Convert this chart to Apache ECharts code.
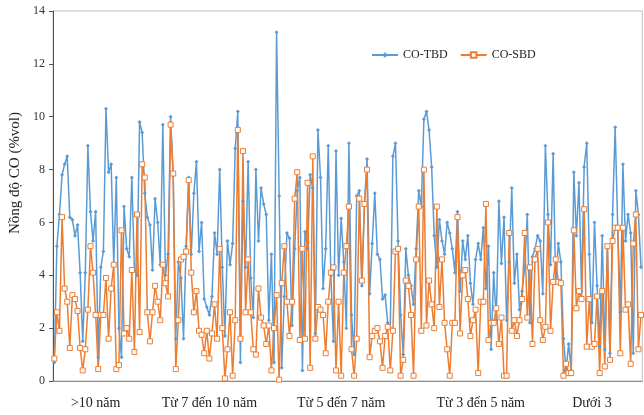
<!DOCTYPE html>
<html>
<head>
<meta charset="utf-8">
<script src="https://cdn.jsdelivr.net/npm/echarts@6/dist/echarts.min.js"></script>
<style>
html,body{margin:0;padding:0;background:#fff;}
#chart{width:644px;height:415px;}
</style>
</head>
<body>
<div id="chart"></div>
<script>
var seriesNames = ['CO-TBD', 'CO-SBD'];
var groupLabels = ['>10 năm', 'Từ 7 đến 10 năm', 'Từ 5 đến 7 năm', 'Từ 3 đến 5 năm', 'Dưới 3'];
var groupLabelAt = [16, 60, 111, 165, 208];
var yTicks = [0, 2, 4, 6, 8, 10, 12, 14];

// CO-TBD
var tbd = [
    0.7, 5.1, 6.3, 7.8, 8.2, 8.5, 6.2, 6.1, 5.5, 5.9,
    4.1, 1.5, 4.1, 8.9, 6.4, 5.3, 6.4, 0.9, 4.3, 4.9,
    10.3, 7.9, 8.2, 4.4, 7.7, 2.0, 0.9, 6.6, 5.0, 4.7,
    7.7, 4.2, 4.0, 9.8, 9.4, 7.1, 6.2, 5.9, 4.2, 6.9,
    6.0, 4.4, 9.7, 4.0, 4.8, 10.0, 7.8, 1.6, 4.5, 3.9,
    1.6, 5.1, 7.7, 4.8, 7.1, 8.3, 4.9, 6.0, 3.1, 2.8,
    2.5, 3.2, 5.6, 4.8, 8.0, 4.3, 1.7, 5.3, 4.4, 5.2,
    8.8, 10.2, 0.7, 6.8, 4.3, 8.3, 3.9, 2.4, 8.0, 5.3,
    7.3, 6.7, 6.3, 2.3, 4.8, 0.7, 13.2, 7.0, 0.5, 3.2,
    5.6, 5.4, 2.1, 5.0, 7.2, 7.7, 0.4, 5.65, 5.0, 7.8,
    7.3, 1.8, 9.5, 7.7, 3.5, 5.0, 8.9, 4.0, 1.5, 8.7,
    4.0, 6.15, 4.5, 2.0, 9.0, 2.5, 1.0, 7.0, 7.2, 3.6,
    6.7, 8.4, 3.3, 5.2, 7.1, 4.8, 4.6, 3.1, 3.25, 2.2,
    2.0, 8.5, 9.0, 5.3, 2.5, 1.0, 5.0, 4.0, 3.6, 2.9,
    5.0, 7.2, 6.6, 9.9, 10.2, 9.5, 8.1, 5.5, 4.3, 6.1,
    5.3, 4.8, 6.0, 5.6, 5.0, 4.1, 6.4, 3.4, 5.3, 4.6,
    5.5, 3.7, 2.9, 4.6, 5.2, 4.6, 5.8, 3.5, 5.1, 1.2,
    4.1, 2.3, 6.8, 4.45, 6.2, 2.3, 4.5, 7.3, 3.7, 4.8,
    2.7, 3.4, 4.3, 6.3, 2.2, 4.7, 5.0, 5.5, 5.3, 3.3,
    8.9, 6.3, 4.4, 8.6, 3.7, 5.2, 4.5, 1.6, 0.4, 1.4,
    0.4, 7.9, 5.5, 7.5, 3.4, 8.1, 9.0, 4.8, 2.2, 6.0,
    3.6, 1.3, 5.5, 1.2, 5.1, 1.05, 6.3, 9.6, 5.8, 2.6,
    8.2, 5.3, 6.3, 5.6, 1.05, 7.2, 6.3, 4.3
];

// CO-SBD
var sbd = [
    0.85, 2.6, 1.9, 6.2, 3.5, 3.0, 1.25, 3.25, 3.1, 2.65,
    1.25, 0.4, 1.2, 2.7, 5.1, 4.1, 2.5, 0.45, 2.5, 2.5,
    3.9, 1.6, 3.5, 4.4, 0.45, 0.6, 5.7, 1.8, 2.0, 1.6,
    4.2, 1.1, 6.3, 1.85, 8.2, 7.7, 2.6, 1.5, 2.6, 3.6,
    3.0, 2.3, 4.4, 3.7, 3.2, 9.7, 7.85, 0.45, 2.3, 4.6,
    4.7, 4.9, 7.6, 4.1, 2.6, 3.4, 1.9, 1.75, 1.05, 1.9,
    0.85, 1.8, 2.9, 1.6, 5.0, 2.0, 0.1, 1.2, 2.6, 0.2,
    2.3, 9.5, 1.6, 8.7, 2.6, 4.6, 2.6, 1.2, 1.0, 3.5,
    2.4, 2.1, 1.4, 2.1, 0.4, 2.0, 3.25, 0.05, 3.7, 5.1,
    3.0, 1.7, 3.0, 6.9, 7.9, 1.55, 5.0, 1.6, 7.5, 0.5,
    8.5, 1.6, 2.8, 2.7, 2.5, 1.05, 3.0, 4.1, 4.3, 0.4,
    3.0, 0.2, 4.1, 5.1, 6.6, 1.2, 0.2, 1.6, 6.9, 3.8,
    6.7, 8.0, 0.9, 1.7, 1.9, 2.0, 1.5, 0.5, 1.7, 2.05,
    0.4, 1.9, 4.9, 5.0, 0.2, 0.8, 3.8, 3.6, 2.5, 0.2,
    4.6, 6.6, 1.9, 8.0, 2.1, 3.8, 2.9, 2.0, 6.6, 2.8,
    4.6, 2.2, 1.2, 0.2, 2.2, 2.2, 6.2, 1.8, 4.0, 4.2,
    3.1, 1.7, 2.3, 2.7, 0.3, 3.0, 3.0, 6.7, 1.55, 2.2,
    2.2, 2.75, 1.4, 2.4, 0.2, 0.2, 5.6, 1.9, 2.3, 1.7,
    2.3, 3.1, 5.6, 2.4, 4.3, 1.4, 4.6, 5.0, 2.3, 1.55,
    2.05, 6.0, 1.9, 3.75, 4.6, 3.75, 3.7, 0.2, 0.65, 0.3,
    0.3, 5.7, 2.75, 3.4, 3.1, 6.5, 1.3, 3.1, 1.3, 1.4,
    3.2, 0.3, 3.4, 0.55, 5.1, 0.8, 5.3, 5.8, 5.8, 1.05,
    5.8, 2.7, 2.9, 0.65, 5.2, 6.3, 1.2, 2.5
];

var categories = tbd.map(function (v, i) {
    var g = groupLabelAt.indexOf(i);
    return g >= 0 ? groupLabels[g] : '';
});

var serif = '"Liberation Serif", "DejaVu Serif", serif';
var myChart = echarts.init(document.getElementById('chart'));

var option = {
    animation: false,
    backgroundColor: '#fff',
    textStyle: { fontFamily: serif },
    grid: {
        left: 53,
        top: 11,
        right: -2,
        bottom: 34,
        show: true,
        borderColor: '#bfbfbf',
        borderWidth: 1
    },
    legend: {
        left: 366,
        top: 44,
        itemWidth: 26,
        itemHeight: 7,
        itemGap: 12,
        textStyle: { fontFamily: serif, fontSize: 12, color: '#222' },
        data: seriesNames
    },
    graphic: [{
        type: 'text',
        x: 15,
        y: 173,
        rotation: Math.PI / 2,
        style: {
            text: 'Nồng độ CO (%vol)',
            font: '15px ' + serif,
            fill: '#222',
            align: 'center',
            verticalAlign: 'middle'
        }
    }],
    xAxis: {
        type: 'category',
        data: categories,
        boundaryGap: true,
        axisLine: { lineStyle: { color: '#8c8c8c', width: 1 } },
        axisTick: { show: false },
        axisLabel: {
            interval: 0,
            margin: 15,
            fontFamily: serif,
            fontSize: 14,
            color: '#222'
        }
    },
    yAxis: {
        type: 'value',
        min: 0,
        max: 14,
        interval: 2,
        splitLine: { show: false },
        axisLine: { show: true, lineStyle: { color: '#555', width: 1 } },
        axisTick: { show: true, inside: false, length: 4, lineStyle: { color: '#555' } },
        axisLabel: {
            margin: 8,
            fontFamily: serif,
            fontSize: 12,
            color: '#333',
            formatter: function (v) { return yTicks.indexOf(v) >= 0 ? String(v) : ''; }
        }
    },
    series: [
        {
            name: seriesNames[0],
            type: 'line',
            data: tbd,
            symbol: 'diamond',
            symbolSize: 4,
            showAllSymbol: true,
            color: '#5b9bd5',
            lineStyle: { width: 1.5, color: '#5b9bd5' },
            itemStyle: { color: '#5b9bd5', borderWidth: 0 }
        },
        {
            name: seriesNames[1],
            type: 'line',
            data: sbd,
            symbol: 'rect',
            symbolSize: 5,
            showAllSymbol: true,
            color: '#ed7d31',
            lineStyle: { width: 1.5, color: '#ed7d31' },
            itemStyle: { color: '#fff', borderColor: '#ed7d31', borderWidth: 1 }
        }
    ]
};

myChart.setOption(option);
</script>
</body>
</html>
